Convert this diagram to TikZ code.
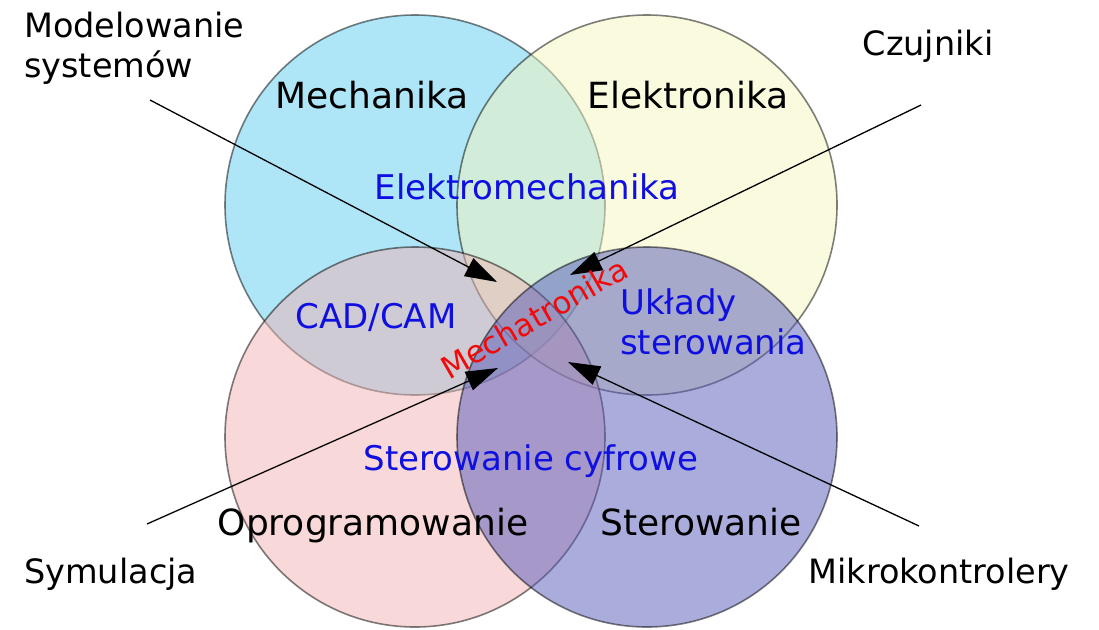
\documentclass[tikz,border=0pt]{standalone}
\usepackage{fontspec}
\setmainfont{DejaVu Sans}
\usetikzlibrary{arrows.meta}
\definecolor{mechfill}{RGB}{93,205,241}
\definecolor{elekfill}{RGB}{245,245,189}
\definecolor{progfill}{RGB}{241,177,177}
\definecolor{sterfill}{RGB}{85,89,185}
\definecolor{areablue}{RGB}{15,15,225}
\definecolor{corered}{RGB}{240,10,10}
\begin{document}
\begin{tikzpicture}[x=1pt,y=-1pt,
  venn/.style={circle, minimum size=380pt, inner sep=0pt,
    fill opacity=0.5, draw=black, draw opacity=0.5, line width=1.6pt},
  field/.style={font=\fontsize{36}{43}\selectfont, inner sep=0pt, anchor=base},
  overlap/.style={font=\fontsize{34}{40}\selectfont, text=areablue, inner sep=0pt, anchor=base},
  outer/.style={font=\fontsize{33.5}{40}\selectfont, inner sep=0pt},
  pointer/.style={draw=black, line width=1.3pt, -{Triangle[length=32pt,width=20pt]}}
]
\useasboundingbox (0,0) rectangle (1099,629);

% the four disciplines
\node[venn, fill=mechfill] (mech) at (415,205) {};
\node[venn, fill=elekfill] (elek) at (647,205) {};
\node[venn, fill=progfill] (prog) at (415,437) {};
\node[venn, fill=sterfill] (ster) at (647,437) {};

% pointers towards the common core
\coordinate (modstart) at (150,100);
\coordinate (modtip)   at (497,282);
\coordinate (czustart) at (921,105);
\coordinate (czutip)   at (570,275);
\coordinate (symstart) at (147,524);
\coordinate (symtip)   at (498,368);
\coordinate (mikstart) at (919,526);
\coordinate (miktip)   at (568,362);
\draw[pointer] (modstart) -- (modtip);
\draw[pointer] (czustart) -- (czutip);
\draw[pointer] (symstart) -- (symtip);
\draw[pointer] (mikstart) -- (miktip);

% discipline names
\node[field] (mechlab) at (372,108) {Mechanika};
\node[field] (eleklab) at (688,108) {Elektronika};
\node[field] (proglab) at (373,535) {Oprogramowanie};
\node[field] (sterlab) at (701,535) {Sterowanie};

% overlap areas
\node[overlap] (emlab)  at (527,199) {Elektromechanika};
\node[overlap] (cadlab) at (376,328) {CAD/CAM};
\node[overlap] (cyflab) at (531,470) {Sterowanie cyfrowe};
\node[overlap, anchor=north west, align=left] (uklab) at (620,288) {Układy\\sterowania};

% the core
\node[font=\fontsize{31}{38}\selectfont, text=corered, inner sep=0pt, rotate=30]
  (corelab) at (534,318) {Mechatronika};

% outside labels
\node[outer, anchor=north west, align=left] (modlab) at (24,12) {Modelowanie\\systemów};
\node[outer, anchor=base] (czulab) at (928,55) {Czujniki};
\node[outer, anchor=base west] (symlab) at (24,583) {Symulacja};
\node[outer, anchor=base] (miklab) at (939,583) {Mikrokontrolery};
\end{tikzpicture}
\end{document}
